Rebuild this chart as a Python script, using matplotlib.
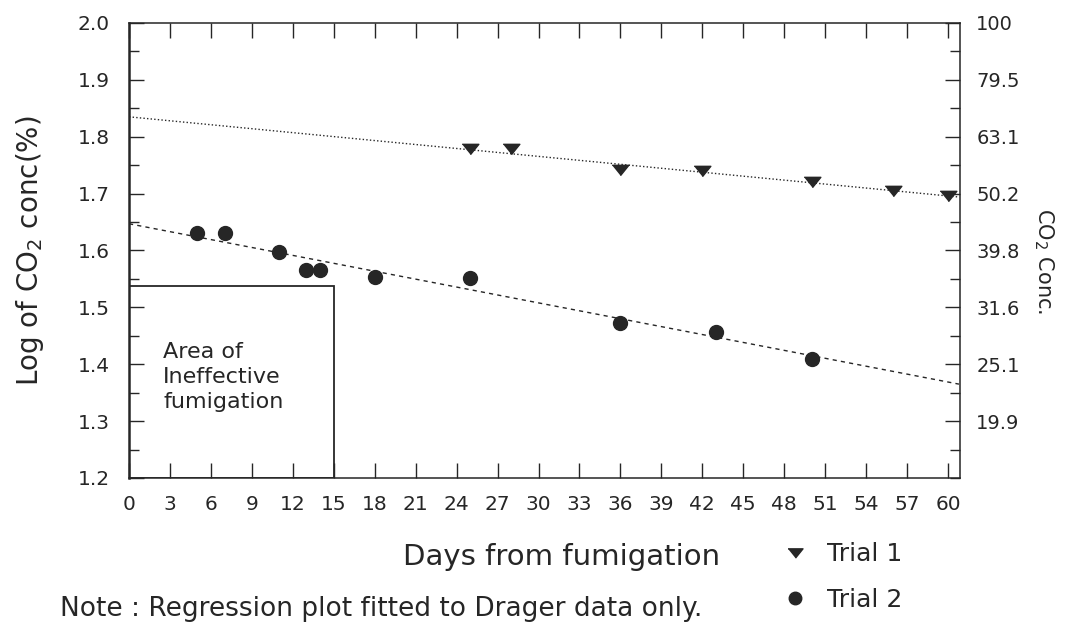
import matplotlib.pyplot as plt
import numpy as np
from matplotlib.patches import Rectangle
from matplotlib.ticker import MultipleLocator, FixedLocator, FixedFormatter

# days and log CO2 values
trial1_days = [25, 28, 36, 42, 50, 56, 60]
trial1_log = [1.779, 1.779, 1.741, 1.739, 1.721, 1.705, 1.696]

trial2_days = [5, 7, 11, 13, 14, 18, 25, 36, 43, 50]
trial2_log = [1.630, 1.630, 1.598, 1.565, 1.565, 1.554, 1.551, 1.472, 1.457, 1.409]

# regression lines (end points as drawn)
fit_days = [0, 60.8]
trial1_fit = [1.835, 1.694]
trial2_fit = [1.647, 1.365]

# ineffective fumigation box
box_days = [0, 15]
box_log = [1.2, 1.538]

x_ticks = list(range(0, 61, 3))
right_ticks = [1.3, 1.4, 1.5, 1.6, 1.7, 1.8, 1.9, 2.0]
right_labels = ['19.9', '25.1', '31.6', '39.8', '50.2', '63.1', '79.5', '100']

ink = '#262626'
plt.rcParams['font.family'] = ['DejaVu Sans']
plt.rcParams['text.color'] = ink

fig = plt.figure(figsize=(10.69, 6.33), dpi=100)
ax = fig.add_axes([0.1207, 0.2449, 0.777, 0.7188])

ax.plot(fit_days, trial1_fit, color=ink, lw=1.0, ls=(0, (1, 1.6)))
ax.plot(fit_days, trial2_fit, color=ink, lw=1.0, ls=(0, (3, 3)))

tri = [(-1, 0.62), (1, 0.62), (0, -0.62)]
h1, = ax.plot(trial1_days, trial1_log, ls='none', marker=tri, ms=12,
              color=ink, label='Trial 1')
h2, = ax.plot(trial2_days, trial2_log, ls='none', marker='o', ms=10,
              color=ink, label='Trial 2')

ax.add_patch(Rectangle((box_days[0], box_log[0]), box_days[1] - box_days[0],
                       box_log[1] - box_log[0], fill=False, ec=ink, lw=1.3))
ax.text(2.5, 1.378, 'Area of\nIneffective\nfumigation', ha='left', va='center',
        fontsize=16, linespacing=1.3, color=ink)

ax.set_xlim(0, 60.85)
ax.set_ylim(1.2, 2.0)
ax.xaxis.set_major_locator(FixedLocator(x_ticks))
ax.yaxis.set_major_locator(MultipleLocator(0.1))
ax.yaxis.set_minor_locator(MultipleLocator(0.05))
ax.yaxis.set_major_formatter(plt.FormatStrFormatter('%.1f'))
ax.tick_params(axis='both', which='major', direction='in', length=11, width=1,
               labelsize=14.5, colors=ink, top=True, pad=12)
ax.tick_params(axis='y', which='minor', direction='in', length=7, width=1, colors=ink)
ax.tick_params(axis='y', which='major', pad=14)
for s in ax.spines.values():
    s.set_color(ink)
    s.set_linewidth(1.1)
ax.spines['left'].set_linewidth(1.8)

ax2 = ax.twinx()
ax2.set_ylim(1.2, 2.0)
ax2.yaxis.set_major_locator(FixedLocator(right_ticks))
ax2.yaxis.set_major_formatter(FixedFormatter(right_labels))
ax2.yaxis.set_minor_locator(MultipleLocator(0.05))
ax2.tick_params(axis='y', which='major', direction='in', length=11, width=1,
                labelsize=14, colors=ink, pad=12)
ax2.tick_params(axis='y', which='minor', direction='in', length=7, width=1, colors=ink)
for s in ax2.spines.values():
    s.set_visible(False)

ax.set_ylabel('Log of CO$_2$ conc(%)', fontsize=20, color=ink)
ax.yaxis.set_label_coords(-0.1, 0.5)
fig.text(1044 / 1069, 1 - 261 / 633, 'CO$_2$ Conc.', rotation=270, ha='center',
         va='center', fontsize=15, color=ink)

fig.text(0.674, 0.12, 'Days from fumigation', ha='right', va='center',
         fontsize=21, color=ink)
fig.text(0.056, 0.018, 'Note : Regression plot fitted to Drager data only.',
         ha='left', va='bottom', fontsize=19, color=ink)

fig.legend(handles=[h1, h2], loc='upper left', bbox_to_anchor=(0.72, 0.163),
           frameon=False, fontsize=18, handlelength=1.0, handletextpad=0.8,
           labelspacing=0.85, borderpad=0, markerscale=0.9)

fig.savefig('out.png', dpi=100)
